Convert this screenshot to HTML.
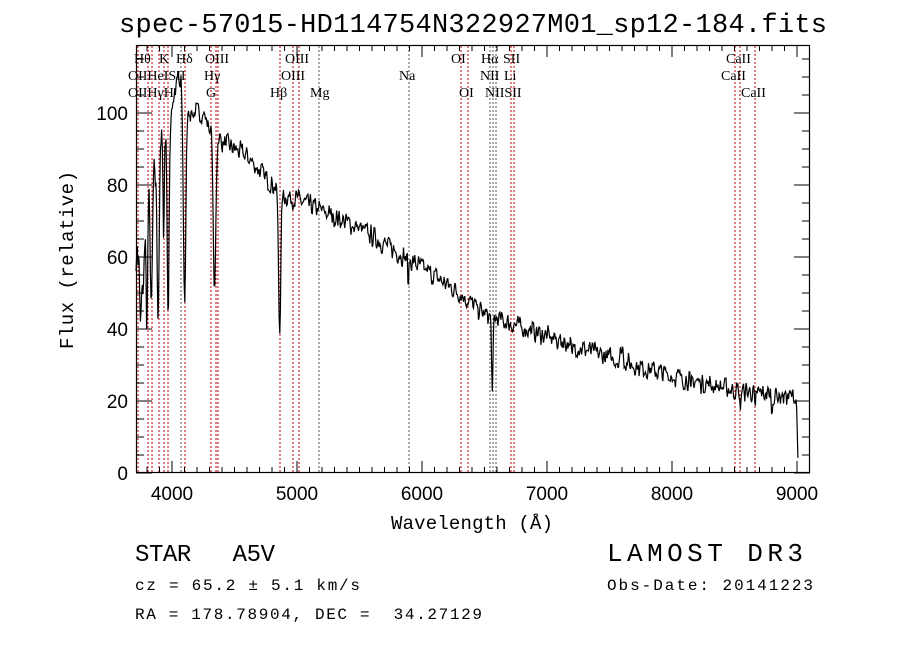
<!DOCTYPE html>
<html><head><meta charset="utf-8"><style>
html,body{margin:0;padding:0;background:#fff;}
svg{display:block;}
text{font-family:"Liberation Sans",sans-serif;fill:#000;white-space:pre;}
.m{font-family:"Liberation Mono",monospace;}
.s{font-family:"Liberation Serif",serif;}
</style></head><body>
<svg id="c" width="900" height="649" viewBox="0 0 900 649" xmlns="http://www.w3.org/2000/svg" xml:space="preserve">
<rect width="900" height="649" fill="#fff"/>
<text class="m" x="473" y="32" font-size="27" text-anchor="middle" textLength="708">spec-57015-HD114754N322927M01_sp12-184.fits</text>
<g id="lines"></g>
<g id="spec"></g>
<rect x="136.5" y="45.5" width="673" height="427" fill="none" stroke="#000" stroke-width="1.2"/>
<g id="ticks"></g>
<text x="472" y="529" font-size="19" text-anchor="middle" class="m" textLength="162">Wavelength (Å)</text>
<text transform="translate(73,260) rotate(-90)" font-size="19" text-anchor="middle" class="m" textLength="178">Flux (relative)</text>
<text class="m" x="135" y="561" font-size="24" textLength="140">STAR   A5V</text>
<text class="m" x="607" y="561" font-size="26" textLength="196">LAMOST DR3</text>
<text class="m" x="135" y="590" font-size="16" textLength="225">cz = 65.2 ± 5.1 km/s</text>
<text class="m" x="607" y="590" font-size="16" textLength="206">Obs-Date: 20141223</text>
<text class="m" x="135" y="619" font-size="16" textLength="347">RA = 178.78904, DEC =  34.27129</text>
</svg>
<script>
var NS="http://www.w3.org/2000/svg";
function X(l){return 172+(l-4000)*0.125;}
function Y(f){return 473-3.6*f;}
function el(p,t,a,txt){var e=document.createElementNS(NS,t);for(var k in a)e.setAttribute(k,a[k]);if(txt)e.textContent=txt;p.appendChild(e);return e;}
var tk=document.getElementById('ticks');
for(var l=3800;l<=9100;l+=100){var x=X(l);var maj=l%1000==0;
 el(tk,'line',{x1:x,x2:x,y1:473,y2:maj?461:467,stroke:'#000'});
 el(tk,'line',{x1:x,x2:x,y1:45,y2:maj?57:51,stroke:'#000'});
 if(maj)el(tk,'text',{x:x,y:500,'font-size':19,'text-anchor':'middle'},String(l));}
for(var f=0;f<=115;f+=5){var y=Y(f);var maj=f%20==0;
 el(tk,'line',{x1:136,x2:maj?152:144,y1:y,y2:y,stroke:'#000'});
 el(tk,'line',{x1:810,x2:maj?794:802,y1:y,y2:y,stroke:'#000'});
 if(maj)el(tk,'text',{x:128,y:y+7,'font-size':19,'text-anchor':'end'},String(f));}
var L=[[138,'r'],[148,'r'],[152,'r'],[159,'r'],[164,'r'],[168,'r'],[181,'g'],[185,'r'],[211,'r'],[216,'r'],[218,'r'],[280,'r'],[293,'r'],[299,'r'],[319,'g'],[409,'g'],[461,'r'],[468,'r'],[490,'g'],[493,'g'],[496,'g'],[511,'r'],[514,'r'],[735,'r'],[740,'r'],[755,'r']];
var lg=document.getElementById('lines');
L.forEach(function(a){el(lg,'line',{x1:a[0],x2:a[0],y1:46,y2:472,stroke:a[1]=='r'?'#c00000':'#555','stroke-width':1,'stroke-dasharray':'2,2'});});
var T=[[134,63,'Hθ'],[159,63,'K'],[176,63,'Hδ'],[205,63,'OIII'],[285,63,'OIII'],[451,63,'OI'],[481,63,'Hα'],[503,63,'SII'],[726,63,'CaII'],
[128,80,'OIIHeISII'],[204,80,'Hγ'],[281,80,'OIII'],[399,80,'Na'],[480,80,'NII'],[504,80,'Li'],[721,80,'CaII'],
[128,97,'OIIHγH'],[206,97,'G'],[270,97,'Hβ'],[310,97,'Mg'],[459,97,'OI'],[485,97,'NIISII'],[741,97,'CaII']];
T.forEach(function(t){el(lg,'text',{x:t[0],y:t[1],'font-size':14,'class':'s'},t[2]);});
var C=[[3712,60],[3800,72],[3900,88],[4000,104],[4050,108],[4150,100],[4250,100],[4300,96],[4400,92],[4600,88],[4750,82],[4900,77],[5000,76],[5500,68],[6000,57],[6300,50],[6500,44],[7000,38],[7500,32],[8000,27],[8500,23],[8990,21]];
function cont(l){for(var i=0;i<C.length-1;i++){if(l<=C[i+1][0]){var t=(l-C[i][0])/(C[i+1][0]-C[i][0]);return C[i][1]+t*(C[i+1][1]-C[i][1]);}}return 21;}
var A=[[3750,25,8],[3770,20,6],[3798,30,6],[3835,35,7],[3889,40,8],[3934,30,4],[3970,55,8],[4101,55,10],[4340,45,10],[4861,38,9],[5890,8,4],[6563,20,6],[7600,-4,10],[8545,6,4],[8665,7,4],[7200,4,5],[8150,5,4],[8800,6,4]];
var seed=7;function rnd(){seed=(seed*16807)%2147483647;return seed/2147483647;}
var d='';var first=true;var prev=0;
for(var l=3712;l<=9010;l+=5){var f=cont(l);
 A.forEach(function(a){f-=a[1]*Math.exp(-Math.pow((l-a[0])/a[2],2)/2);});
 var nz=(l<4100?6:2.6);var n=(rnd()-0.5)*2*nz;var v=0.5*n+0.5*prev;prev=n;f+=v*1.3;
 if(l>8995)f=21*(9010-l)/15;
 var yy=Math.max(46,Y(f));d+=(first?'M':'L')+X(l).toFixed(1)+','+yy.toFixed(1);first=false;}
el(document.getElementById('spec'),'path',{d:d,fill:'none',stroke:'#000','stroke-width':1.2});
</script>
</body></html>
